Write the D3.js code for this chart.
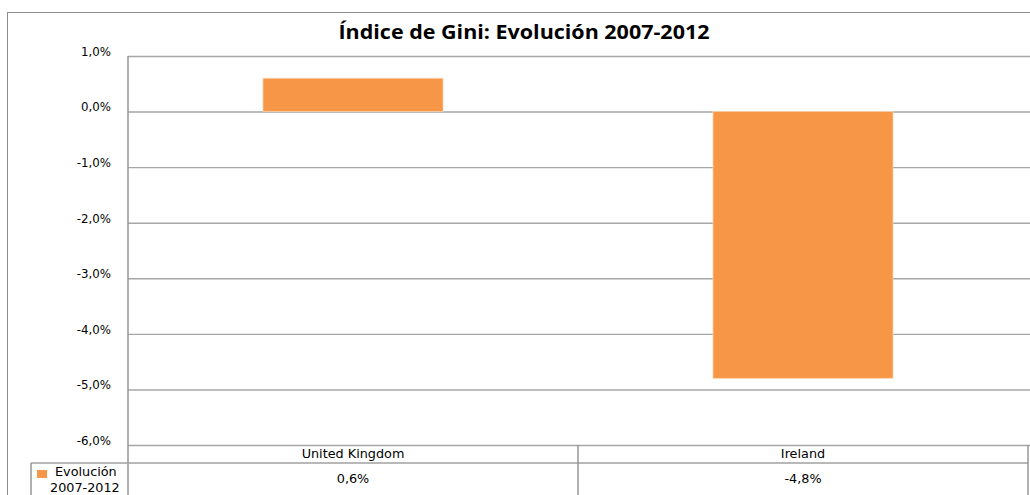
<!DOCTYPE html>
<html>
<head>
<meta charset="utf-8">
<script src="https://cdn.jsdelivr.net/npm/d3@7"></script>
<style>
  html, body { margin: 0; padding: 0; background: #fff; }
  svg { display: block; }
</style>
</head>
<body>
<svg id="chart" width="1030" height="495"></svg>
<script>
// Gini index change 2007-2012, by country
const categories = ["United Kingdom", "Ireland"];
const values = [0.6, -4.8];
const seriesName = ["Evolución", "2007-2012"];
const yTicks = [1, 0, -1, -2, -3, -4, -5, -6];
const title = "Índice de Gini: Evolución 2007-2012";

// Spanish-style percent: comma decimal, plain hyphen for negatives
const fmt = v => (v < 0 ? "-" : "") + d3.format(".1f")(Math.abs(v)).replace(".", ",") + "%";

const svg = d3.select("#chart");
const W = 1030, H = 495;
const plot = { left: 128, right: 1028, top: 56, bottom: 445 };
const orange = "#F79646";
const gridColor = "#a6a6a6";
const textFont = "'DejaVu Sans', Verdana, sans-serif";
const tableSize = 12.8;

// outer chart frame
svg.append("rect")
  .attr("x", 7.5).attr("y", 12.5)
  .attr("width", W + 10).attr("height", H)
  .attr("fill", "#fff").attr("stroke", "#8c8c8c").attr("stroke-width", 1);

svg.append("text")
  .attr("x", 524).attr("y", 39)
  .attr("text-anchor", "middle")
  .attr("font-family", "'Open Sans', Lato, sans-serif")
  .attr("font-weight", "bold")
  .attr("font-size", 19.5)
  .attr("textLength", 371)
  .attr("lengthAdjust", "spacingAndGlyphs")
  .attr("fill", "#000")
  .text(title);

const x = d3.scaleBand().domain(categories)
  .range([plot.left, plot.right]).paddingInner(0).paddingOuter(0);
const y = d3.scaleLinear().domain([-6, 1]).range([plot.bottom, plot.top]);

// horizontal gridlines + tick labels
const yAxis = d3.axisLeft(y).tickValues(yTicks).tickFormat(fmt)
  .tickSize(-(W - plot.left)).tickPadding(17);
const gy = svg.append("g").attr("transform", `translate(${plot.left},0)`).call(yAxis);
gy.select(".domain").remove();
gy.selectAll(".tick line").attr("stroke", gridColor).attr("stroke-width", 1.4);
gy.selectAll(".tick text")
  .attr("font-family", textFont).attr("font-size", 11.8).attr("fill", "#000")
  .attr("dy", "-0.05em");

// bars
const barW = 180;
svg.append("g").selectAll("rect").data(values).join("rect")
  .attr("x", (d, i) => x(categories[i]) + x.bandwidth() / 2 - barW / 2)
  .attr("width", barW)
  .attr("y", d => y(Math.max(0, d)))
  .attr("height", d => Math.abs(y(d) - y(0)))
  .attr("fill", orange)
  .attr("stroke", "#fbd2b0").attr("stroke-width", 0.8);

// data table below the plot
const rowTop = plot.bottom, rowMid = 463, legendLeft = 31;
const tbl = svg.append("g").attr("stroke", "#a0a0a0").attr("stroke-width", 1.4).attr("fill", "none");
// left axis line from plot top to bottom of the frame
tbl.append("line").attr("x1", plot.left).attr("x2", plot.left)
  .attr("y1", plot.top).attr("y2", H).attr("stroke", "#909090");
tbl.append("line").attr("x1", legendLeft).attr("x2", plot.right)
  .attr("y1", rowMid).attr("y2", rowMid);
tbl.append("line").attr("x1", legendLeft).attr("x2", legendLeft)
  .attr("y1", rowMid).attr("y2", H).attr("stroke", "#909090");
tbl.append("line").attr("x1", plot.right).attr("x2", plot.right)
  .attr("y1", rowTop).attr("y2", H).attr("stroke", "#909090");
categories.slice(1).forEach(c => {
  tbl.append("line").attr("x1", x(c)).attr("x2", x(c))
    .attr("y1", rowTop).attr("y2", H).attr("stroke", "#909090");
});

svg.append("g").selectAll("text").data(categories).join("text")
  .attr("x", d => x(d) + x.bandwidth() / 2)
  .attr("y", 458)
  .attr("text-anchor", "middle")
  .attr("font-family", textFont).attr("font-size", tableSize).attr("fill", "#000")
  .text(d => d);

svg.append("g").selectAll("text").data(values).join("text")
  .attr("x", (d, i) => x(categories[i]) + x.bandwidth() / 2)
  .attr("y", 483)
  .attr("text-anchor", "middle")
  .attr("font-family", textFont).attr("font-size", tableSize).attr("fill", "#000")
  .text(d => fmt(d));

// legend key in the table's row header
svg.append("rect").attr("x", 37).attr("y", 470).attr("width", 10).attr("height", 8).attr("fill", orange);
svg.append("text").attr("x", 55).attr("y", 476)
  .attr("font-family", textFont).attr("font-size", tableSize).attr("fill", "#000")
  .text(seriesName[0]);
svg.append("text").attr("x", 50).attr("y", 492)
  .attr("font-family", textFont).attr("font-size", tableSize).attr("fill", "#000")
  .text(seriesName[1]);
</script>
</body>
</html>
